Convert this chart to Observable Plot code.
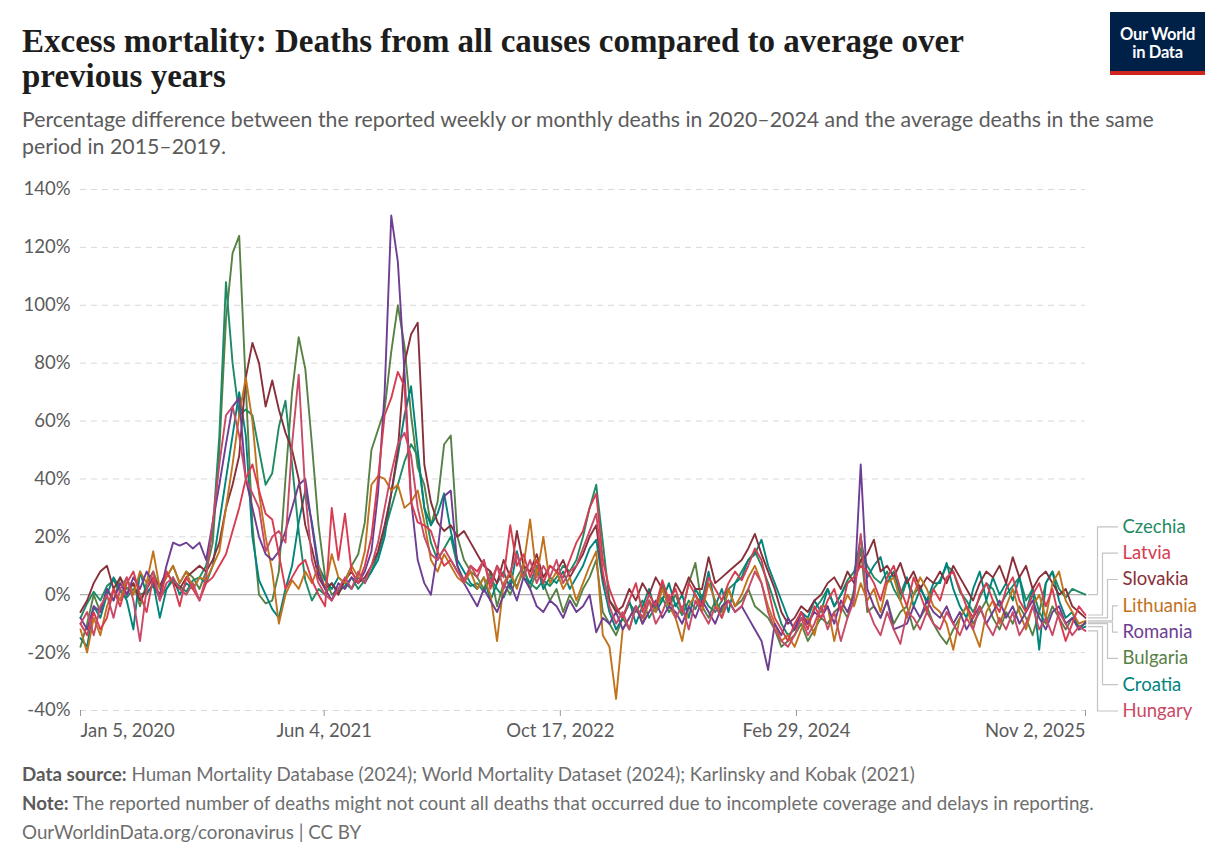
<!DOCTYPE html>
<html>
<head>
<meta charset="utf-8">
<script src="https://cdn.jsdelivr.net/npm/d3@7"></script>
<script src="https://cdn.jsdelivr.net/npm/@observablehq/plot@0.6"></script>
<style>
  body { margin: 0; background: #fff; width: 1227px; height: 866px; position: relative; overflow: hidden; font-family: Lato, sans-serif; }
  #title { position: absolute; left: 22px; top: 24px; width: 985px; font-family: "Liberation Serif", serif; font-weight: 700; font-size: 33px; line-height: 35px; color: #1d1d1d; }
  #subtitle { position: absolute; left: 22px; top: 106px; width: 1165px; font-size: 21.3px; line-height: 27px; color: #5b5b5b; }
  #logo { position: absolute; left: 1110px; top: 12px; width: 95px; background: #002147; border-bottom: 4px solid #ce261e; color: #fff; text-align: center; font-size: 16.5px; font-weight: 700; line-height: 18px; padding-top: 13px; box-sizing: content-box; height: 46px; letter-spacing: -0.3px; }
  #chart { position: absolute; left: 0; top: 165px; }
  #footer { position: absolute; left: 22px; top: 759px; width: 1200px; font-size: 18.8px; line-height: 29px; color: #6e6e6e; }
  #footer b { color: #5b5b5b; }
</style>
</head>
<body>
<div id="title">Excess mortality: Deaths from all causes compared to average over previous years</div>
<div id="subtitle">Percentage difference between the reported weekly or monthly deaths in 2020–2024 and the average deaths in the same period in 2015–2019.</div>
<div id="logo">Our World<br>in Data</div>
<div id="chart"></div>
<div id="footer">
  <div><b>Data source:</b> Human Mortality Database (2024); World Mortality Dataset (2024); Karlinsky and Kobak (2021)</div>
  <div><b>Note:</b> The reported number of deaths might not count all deaths that occurred due to incomplete coverage and delays in reporting.</div>
  <div>OurWorldinData.org/coronavirus | CC BY</div>
</div>
<script>
// Fortnightly P-scores (%), first value for the week of Jan 5, 2020
const startDate = "2020-01-05";
const stepDays = 14;

const czechia = [
  -8, -3, 1, -2, 3, 5, 1, -1, 2, 0,
  1, 3, -1, 2, 5, 3, 1, 5, 6, 10,
  22, 55, 108, 80, 62, 64, 62, 50, 38, 42,
  58, 67, 45, 22, 5, -2, 2, 0, 4, 1,
  3, 6, 2, 5, 8, 14, 22, 30, 38, 46,
  52, 48, 30, 18, 12, 16, 20, 10, 5, 3,
  4, 1, 6, 2, -1, 5, 3, 8, 4, 2,
  5, 3, 6, 10, 8, 12, 20, 30, 38, 18,
  -2, -5, -8, -3, -6, -2, -8, -4, -1, -6,
  -3, -7, -2, -5, 0, -4, -6, -2, 2, 4,
  8, 12, 15, 10, 4, -3, -10, -14, -12, -8,
  -10, -5, -2, 2, -4, 0, 5, 8, 16, 10,
  6, 4, 8, 2, -2, 5, 0, 3, -3, 2,
  5, 10, 8, 1, -2, -6, -1, 4, 2, -4,
  0, 3, 6, -2, 2, -6, 4, 8, 2, -1,
  2, 1, 0
];
const latvia = [
  -10, -14, -6, -12, -8, 2, -4, 4, 8, 0,
  -6, 6, -2, 8, 4, -4, 6, 2, -2, 4,
  6, 10, 14, 22, 30, 40, 45, 36, 28, 26,
  14, 2, 6, 10, 12, 5, 0, -4, 30, 12,
  28, 8, 4, 10, 20, 40, 62, 68, 77, 72,
  32, 25, 24, 22, 15, 10, 12, 8, 5, 10,
  8, 12, 2, 10, 6, 24, 10, 14, 6, 12,
  4, 10, 8, 6, 12, 18, 22, 30, 35, 12,
  2, -4, -8, -2, 4, -6, 0, -4, 5, -2,
  2, -6, 4, 0, -4, 6, 2, -2, 4, 8,
  5, 10, 16, 12, 2, -8, -12, -16, -10, -6,
  -12, -4, -8, -2, 2, -6, 4, 6, 10, 8,
  4, -2, 6, 10, 2, -4, 6, 0, -6, 2,
  -2, 6, 8, 2, -4, -8, 0, 4, -2, -6,
  2, 6, -2, -6, 0, 4, -4, 2, -8, -16,
  -10, -4, -7
];
const slovakia = [
  -6, -2, 4, 8, 10, 2, 6, 0, 4, -2,
  2, 6, 3, 8, 4, 2, 6, 8, 10, 8,
  12, 18, 30, 38, 48, 75, 87, 80, 65, 74,
  64, 56, 50, 40, 24, 16, 6, 2, 4, 0,
  5, 8, 4, 6, 10, 15, 24, 35, 50, 80,
  90, 94, 45, 32, 25, 22, 24, 20, 22, 18,
  14, 10, 8, 4, 12, 6, 22, 10, 8, 14,
  6, 10, 8, 12, 6, 10, 14, 20, 24, 6,
  -2, -6, -4, 2, -2, 4, 0, 6, 2, -4,
  4, 0, 6, 2, 2, 13, 4, 6, 8, 10,
  12, 16, 21, 14, 8, 2, -6, -10, -8, -4,
  -6, -2, 0, 4, 6, 2, 8, 4, 12, 14,
  19, 8, 10, 6, 11, 4, 8, 2, 6, 4,
  8, 4, 10, 6, 2, -2, 4, 8, 6, 10,
  4, 13, 6, 10, 2, 6, 8, 4, 0, 2,
  -4, -6, -8
];
const lithuania = [
  -12, -20, -8, -14, -4, 2, -2, 6, 0, 8,
  4, 15, 2, 6, 10, 4, 8, 2, 6, 5,
  10, 15, 30, 45, 62, 75, 60, 35, 20, 8,
  -10, 0, 5, 2, 8, 4, 10, 2, 14, 6,
  4, 10, 6, 15, 38, 41, 40, 36, 38, 30,
  32, 36, 25, 12, 8, 14, 10, 6, 4, 8,
  2, 6, 0, -16, 4, 8, 2, 10, 26, 6,
  20, 4, 8, 2, 6, -2, 4, 10, 15, -14,
  -18, -36, -12, -8, -4, -10, -2, -6, 2, -4,
  -8, -16, -4, 0, -6, 4, -2, -8, 2, -4,
  0, 6, 10, 4, -4, -10, -16, -14, -18, -12,
  -8, -14, -4, -4, -16, -6, 0, -4, 4, -2,
  2, -6, 4, 6, -2, -8, 0, 6, 2, -4,
  -6, -10, -19, -8, -4, -12, -18, -6, -2, -10,
  -4, 2, -6, -12, -4, 0, -8, 4, 8, -2,
  -6, -10, -9
];
const romania = [
  -8, -12, -4, -6, 2, -2, 4, 0, 6, 2,
  8, 4, 0, 10, 18, 17, 18, 16, 18, 12,
  25, 38, 52, 65, 68, 40, 30, 20, 14, 12,
  15, 22, 30, 38, 40, 24, 8, 2, -2, 4,
  2, 6, 4, 8, 15, 35, 70, 131, 115, 77,
  33, 12, 4, 0, 15, 34, 36, 10, 4, 0,
  -4, 2, -2, -6, 0, 4, -2, 6, 2, -4,
  -6, -2, -4, -8, -2, -6, -4, 0, -13, -8,
  -10, -6, -12, -8, -4, -10, -6, -2, -8, -4,
  -6, -10, -4, -8, -2, -6, -10, -4, -2, -6,
  -4, -8, -12, -16, -26, -10, -14, -8, -12, -6,
  -10, -6, -8, -4, -10, -2, -6, 0, 45, 2,
  -4, -8, -2, -12, -11, -10, -4, -8, -2, -6,
  -8, -4, -10, -6, -12, -8, -4, -10, -6, -2,
  -8, -4, -10, -6, -2, -8, -12, -6, -4, -10,
  -8, -12, -9.5
];
const bulgaria = [
  -18, -10, 0, -6, 2, -2, 6, 2, 4, -4,
  4, 8, 2, 6, 10, 4, 8, 6, 2, 8,
  18, 50, 95, 118, 124, 72, 24, 0, -3, -2,
  8, 40, 70, 89, 78, 52, 24, 6, 0, 2,
  5, 10, 14, 25, 50, 57, 64, 84, 100, 86,
  62, 44, 38, 24, 32, 52, 55, 20, 12, 8,
  6, 2, 8, -4, 4, 0, 6, 10, 2, 8,
  4, -2, 2, -6, 0, -4, 2, 6, 12, -6,
  -10, -14, -8, -12, -4, -8, -2, -6, 4, -4,
  0, -6, 4, 11, -4, -8, -2, -6, 2, -4,
  -2, 2, -4, -6, -8, -12, -18, -16, -14, -10,
  -16, -12, -8, -10, -6, -4, -8, 2, 16, -6,
  -4, -8, -2, -10, -6, -4, -12, -8, -4, -10,
  -14, -17, -12, -8, -4, -10, -6, -2, -8, -12,
  -6, -10, -4, -8, -14, -6, -10, -4, -8, -12,
  -8, -11, -10
];
const croatia = [
  -15, -18, -4, -8, 0, 6, 2, -2, -12, 8,
  0, 4, -8, 2, 6, 0, 4, 2, 6, 4,
  10, 25, 40, 55, 70, 55, 20, 5, 0, -5,
  -8, 2, 10, 25, 36, 25, 10, 5, 2, 6,
  4, 2, 6, 4, 8, 12, 20, 35, 48, 62,
  72, 50, 30, 24, 28, 35, 22, 12, 8, 4,
  2, 6, -2, 4, 8, 2, 15, 6, 4, 10,
  2, 6, 4, 8, 2, 6, 10, 16, 19, 4,
  -6, -12, -8, -2, -10, -4, 2, -6, -2, 4,
  -4, 0, -8, 2, -2, 8, -4, 2, -6, 4,
  6, 12, 14, 19, 10, 4, -2, -8, -12, -6,
  -8, -2, -6, 2, -4, 0, 4, 6, 20, 6,
  10, 13, 4, 8, 0, 6, -4, 2, -2, 4,
  4, 11, 2, -4, -8, 2, 8, -2, 6, 0,
  4, -2, 6, -6, 2, -19, 4, 8, -2, -8,
  -6, -12, -11
];
const hungary = [
  -10, -6, -14, -4, 0, -8, 2, 6, -2, -16,
  2, 8, -2, 4, 6, 2, 0, 4, -2, 6,
  25, 45, 62, 65, 55, 40, 35, 30, 15, 20,
  22, 18, 52, 76, 35, 12, 4, 0, -2, 2,
  6, 2, 8, 4, 10, 18, 30, 42, 52, 56,
  48, 30, 20, 14, 12, 16, 12, 8, 4, 10,
  6, 12, 4, 10, 2, 8, 14, 6, 12, 4,
  10, 6, 12, 4, 8, 10, 16, 22, 28, 8,
  -4, -10, -6, -12, -4, -8, -2, -10, -6, 0,
  -8, -4, -12, -2, -6, -10, -4, -8, -2, -6,
  -4, 2, 8, 4, -6, -12, -16, -18, -14, -8,
  -14, -10, -4, -12, -6, -16, -8, -2, 21, -4,
  -10, -14, -6, -12, -17, -6, -8, -12, -6, -10,
  -12, -6, -10, -14, -8, -12, -4, -10, -14, -8,
  -12, -6, -14, -10, -4, -12, -8, -14, -6, -10,
  -14, -11, -12.5
];

const countries = ["Czechia", "Latvia", "Slovakia", "Lithuania", "Romania", "Bulgaria", "Croatia", "Hungary"];
const seriesValues = [czechia, latvia, slovakia, lithuania, romania, bulgaria, croatia, hungary];
const colors = ["#1f8a63", "#d73c50", "#883039", "#c0731c", "#6d3e91", "#578145", "#00847e", "#c84a66"];
const drawOrder = ["Bulgaria", "Czechia", "Croatia", "Slovakia", "Lithuania", "Romania", "Latvia", "Hungary"];

const yTicks = [-40, -20, 0, 20, 40, 60, 80, 100, 120, 140];
const xTickDates = ["2020-01-05", "2021-06-04", "2022-10-17", "2024-02-29", "2025-11-02"];

// ---- layout of the SVG ----
const W = 1227, H = 590;
const mL = 80, mR = 142, mT = 24, mB = 45;

const DAY = 86400000;
const t0 = new Date(startDate + "T00:00:00Z");
const series = countries.map((name, k) => ({
  name,
  color: colors[k],
  points: seriesValues[k].map((v, i) => ({date: new Date(t0.getTime() + i * stepDays * DAY), value: v}))
}));

const xDomain = [new Date(xTickDates[0] + "T00:00:00Z"), new Date(xTickDates[xTickDates.length - 1] + "T00:00:00Z")];
const xTicks = xTickDates.map(s => new Date(s + "T00:00:00Z"));
const pxPerMs = (W - mL - mR) / (xDomain[1] - xDomain[0]);
const pxPerUnit = (H - mT - mB) / (140 - (-40));
const shiftPx = (d, px) => new Date(d.getTime() + px / pxPerMs);

// End-of-line labels: spread apart so that they never overlap
const gap = 26.3 / pxPerUnit;
const ends = series.map(s => ({name: s.name, color: s.color, end: s.points[s.points.length - 1]}))
  .sort((a, b) => b.end.value - a.end.value);
const pos = ends.map(e => e.end.value);
for (let it = 0; it < 500; it++) {
  for (let k = 0; k < pos.length - 1; k++) {
    const diff = pos[k] - pos[k + 1];
    if (diff < gap) { const s = (gap - diff) / 2; pos[k] += s; pos[k + 1] -= s; }
  }
}
const labels = ends.map((e, k) => ({...e, labelY: pos[k], bend: 12 + 5 * Math.min(k, ends.length - 1 - k)}));
const connectors = labels.flatMap(l => [
  {name: l.name, x: shiftPx(l.end.date, 3), y: l.end.value},
  {name: l.name, x: shiftPx(l.end.date, l.bend), y: l.end.value},
  {name: l.name, x: shiftPx(l.end.date, l.bend), y: l.labelY},
  {name: l.name, x: shiftPx(l.end.date, 32), y: l.labelY}
]);

const fmt = d3.utcFormat("%b %-d, %Y");
const axisFont = 18.5;

const lineMarks = drawOrder.map(n => {
  const s = series.find(d => d.name === n);
  return Plot.line(s.points, {x: "date", y: "value", stroke: s.color, strokeWidth: 1.9, strokeLinejoin: "round"});
});

const chart = Plot.plot({
  width: W, height: H,
  marginLeft: mL, marginRight: mR, marginTop: mT, marginBottom: mB,
  x: {type: "utc", domain: xDomain},
  y: {domain: [-40, 140]},
  style: {fontFamily: "Lato, sans-serif", fontSize: axisFont + "px", color: "#5b5b5b", background: "#fff", overflow: "visible"},
  marks: [
    Plot.gridY(yTicks.filter(v => v !== 0), {stroke: "#d9d9d9", strokeOpacity: 1, strokeDasharray: "6,5", strokeWidth: 1}),
    Plot.ruleY([0], {stroke: "#9a9a9a", strokeWidth: 1}),
    Plot.axisY({ticks: yTicks, tickSize: 0, tickPadding: 10, tickFormat: d => d + "%", label: null, fontSize: axisFont, fill: "#5b5b5b"}),
    Plot.axisX({ticks: xTicks, tickSize: 6, tickFormat: () => "", label: null, stroke: "#999"}),
    Plot.text([xTicks[0]], {x: d => d, frameAnchor: "bottom", dy: 26, textAnchor: "start", text: fmt, fontSize: axisFont, fill: "#5b5b5b"}),
    Plot.text(xTicks.slice(1, -1), {x: d => d, frameAnchor: "bottom", dy: 26, textAnchor: "middle", text: fmt, fontSize: axisFont, fill: "#5b5b5b"}),
    Plot.text([xTicks[xTicks.length - 1]], {x: d => d, frameAnchor: "bottom", dy: 26, textAnchor: "end", text: fmt, fontSize: axisFont, fill: "#5b5b5b"}),
    ...lineMarks,
    Plot.line(connectors, {x: "x", y: "y", z: "name", stroke: "#c4c4c4", strokeWidth: 1.2}),
    ...labels.map(l => Plot.text([l], {x: d => d.end.date, y: "labelY", text: "name", fill: l.color, textAnchor: "start", dx: 37, fontSize: axisFont}))
  ]
});
document.getElementById("chart").appendChild(chart);
</script>
</body>
</html>
